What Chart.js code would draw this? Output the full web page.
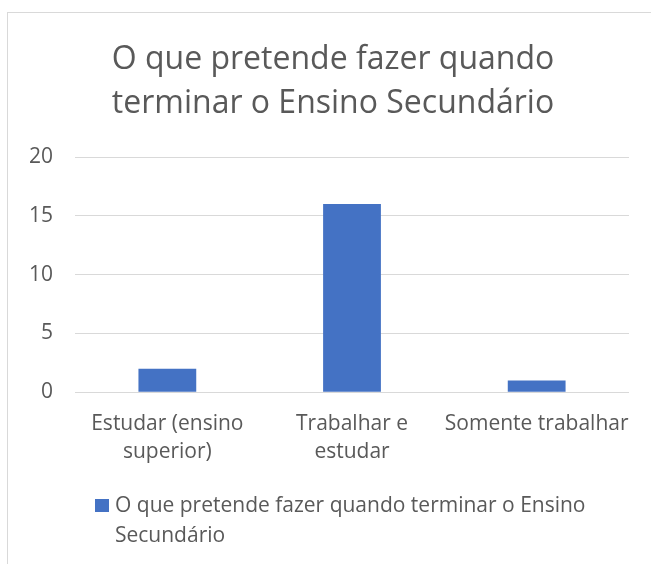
<!DOCTYPE html>
<html>
<head>
<meta charset="utf-8">
<script src="https://cdn.jsdelivr.net/npm/chart.js@4/dist/chart.umd.min.js"></script>
<style>
  body { margin: 0; background: #fff; }
  #frame { position: absolute; left: 7px; top: 12px; width: 700px; height: 600px; border: 1px solid #d9d9d9; }
  #wrap { position: absolute; left: 0; top: 0; width: 651px; height: 564px; overflow: hidden; }
</style>
</head>
<body>
<div id="wrap">
  <div id="frame"></div>
  <canvas id="barChart" width="651" height="564" style="position:absolute;left:0;top:0;"></canvas>
</div>
<script>
// chart data
var categories = [['Estudar (ensino', 'superior)'], ['Trabalhar e', 'estudar'], 'Somente trabalhar'];
var seriesName = 'O que pretende fazer quando terminar o Ensino Secundário';
var seriesValues = [2, 16, 1];
var titleLines = ['O que pretende fazer quando', 'terminar o Ensino Secundário'];

var fontName = '"Open Sans", "Noto Sans", sans-serif';
var textColor = '#595959';

// title + legend drawn by hand: the title sits a bit right of the canvas centre
// and the legend label wraps onto a second line, like the original
var chartTexts = {
  id: 'chartTexts',
  afterDraw: function (chart) {
    var ctx = chart.ctx;
    var ds = chart.data.datasets[0];
    ctx.save();
    ctx.fillStyle = textColor;
    ctx.textBaseline = 'middle';

    // title
    ctx.font = '32px ' + fontName;
    ctx.textAlign = 'center';
    for (var t = 0; t < titleLines.length; t++) {
      ctx.fillText(titleLines[t], 333, 60 + t * 44);
    }

    // legend
    var boxX = 95, boxY = 499, maxW = 480;
    ctx.fillStyle = ds.backgroundColor;
    ctx.fillRect(boxX, boxY, 14, 13);
    ctx.font = '21px ' + fontName;
    ctx.fillStyle = textColor;
    ctx.textAlign = 'left';
    var words = ds.label.split(' ');
    var lines = [], line = '';
    for (var i = 0; i < words.length; i++) {
      var test = line ? line + ' ' + words[i] : words[i];
      if (ctx.measureText(test).width > maxW && line) {
        lines.push(line);
        line = words[i];
      } else {
        line = test;
      }
    }
    lines.push(line);
    for (var j = 0; j < lines.length; j++) {
      ctx.fillText(lines[j], boxX + 20, boxY + 7 + j * 30);
    }
    ctx.restore();
  }
};

var ctx = document.getElementById('barChart').getContext('2d');
var chart = new Chart(ctx, {
  type: 'bar',
  data: {
    labels: categories,
    datasets: [{
      label: seriesName,
      data: seriesValues,
      backgroundColor: '#4472C4',
      barPercentage: 0.313,
      categoryPercentage: 1
    }]
  },
  options: {
    responsive: false,
    animation: false,
    layout: { padding: { left: 7, right: 22, top: 157, bottom: 88 } },
    plugins: {
      legend: { display: false },
      tooltip: { enabled: false },
      title: { display: false }
    },
    scales: {
      x: {
        grid: { display: false },
        border: { display: false },
        ticks: { color: textColor, font: { family: fontName, size: 21, lineHeight: 1.33 }, padding: 10, maxRotation: 0, autoSkip: false }
      },
      y: {
        min: 0,
        max: 20,
        ticks: { stepSize: 5, color: textColor, font: { family: fontName, size: 21 }, padding: 22 },
        grid: { color: '#d9d9d9', drawTicks: false, lineWidth: 1 },
        border: { display: false }
      }
    }
  },
  plugins: [chartTexts]
});
</script>
</body>
</html>
